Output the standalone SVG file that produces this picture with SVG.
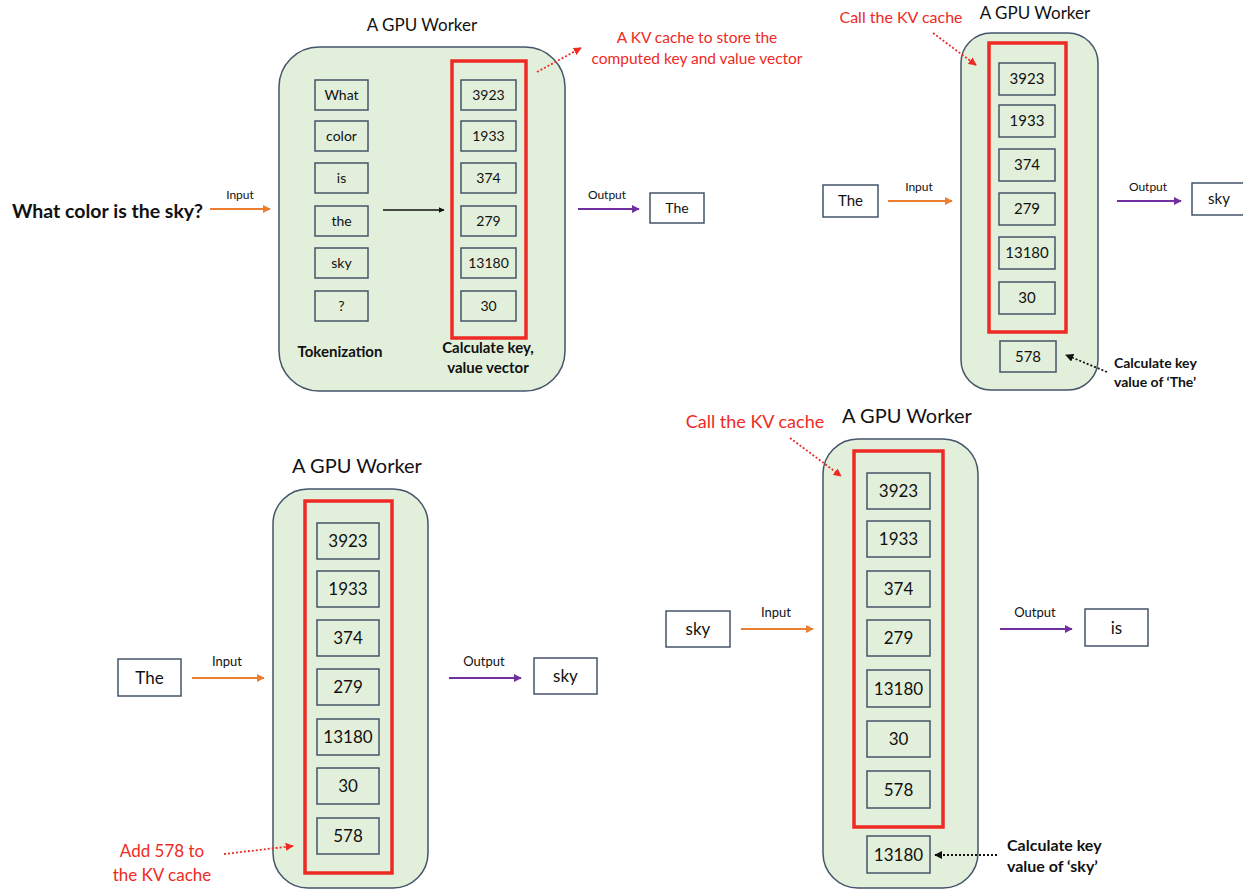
<svg xmlns="http://www.w3.org/2000/svg" width="1243" height="890" viewBox="0 0 1243 890">
<defs>
<style>
text{font-family:Lato,"Liberation Sans",sans-serif;fill:#111}
.c{text-anchor:middle}
.worker{fill:#e2efda;stroke:#44546a;stroke-width:1.5}
.box{fill:#e2efda;stroke:#44546a;stroke-width:1.5}
.wbox{fill:#fff;stroke:#44546a;stroke-width:1.5}
.kv{fill:none;stroke:#ee2a24;stroke-width:3.5}
.red{fill:#ee2a24}
.b{font-weight:bold}
.in{stroke:#ed7d31;stroke-width:2;fill:none;marker-end:url(#ao)}
.out{stroke:#7030a0;stroke-width:2;fill:none;marker-end:url(#ap)}
.rd{stroke:#ee2a24;stroke-width:1.8;stroke-dasharray:2 2;fill:none;marker-end:url(#ar)}
.kd{stroke:#111;stroke-width:1.8;stroke-dasharray:2 2;fill:none;marker-end:url(#ak)}
</style>
<marker id="ao" viewBox="0 0 10 10" refX="9" refY="5" markerWidth="4" markerHeight="4" orient="auto"><path d="M0,0L10,5L0,10z" fill="#ed7d31"/></marker>
<marker id="ap" viewBox="0 0 10 10" refX="9" refY="5" markerWidth="4" markerHeight="4" orient="auto"><path d="M0,0L10,5L0,10z" fill="#7030a0"/></marker>
<marker id="ar" viewBox="0 0 10 10" refX="9" refY="5" markerWidth="4.5" markerHeight="4.5" orient="auto"><path d="M0,0L10,5L0,10z" fill="#ee2a24"/></marker>
<marker id="ak" viewBox="0 0 10 10" refX="9" refY="5" markerWidth="4.5" markerHeight="4.5" orient="auto"><path d="M0,0L10,5L0,10z" fill="#111"/></marker>
<marker id="ab" viewBox="0 0 10 10" refX="9" refY="5" markerWidth="4" markerHeight="4" orient="auto"><path d="M0,0L10,5L0,10z" fill="#111"/></marker>
</defs>
<rect width="1243" height="890" fill="#fff"/>

<!-- Panel 1 -->
<g id="panel1">
<text class="c" x="422" y="31" font-size="17">A GPU Worker</text>
<rect class="worker" x="279" y="47" width="286" height="344" rx="40"/>
<g font-size="14">
<rect class="box" x="315" y="80" width="53" height="30"/><text class="c" x="341.5" y="100">What</text>
<rect class="box" x="315" y="121" width="53" height="30"/><text class="c" x="341.5" y="141">color</text>
<rect class="box" x="315" y="163" width="53" height="30"/><text class="c" x="341.5" y="183">is</text>
<rect class="box" x="315" y="206" width="53" height="30"/><text class="c" x="341.5" y="226">the</text>
<rect class="box" x="315" y="248" width="53" height="30"/><text class="c" x="341.5" y="268">sky</text>
<rect class="box" x="315" y="291" width="53" height="30"/><text class="c" x="341.5" y="311">?</text>
<rect class="box" x="461" y="80" width="55" height="30"/><text class="c" x="488.5" y="100">3923</text>
<rect class="box" x="461" y="121" width="55" height="30"/><text class="c" x="488.5" y="141">1933</text>
<rect class="box" x="461" y="163" width="55" height="30"/><text class="c" x="488.5" y="183">374</text>
<rect class="box" x="461" y="206" width="55" height="30"/><text class="c" x="488.5" y="226">279</text>
<rect class="box" x="461" y="248" width="55" height="30"/><text class="c" x="488.5" y="268">13180</text>
<rect class="box" x="461" y="291" width="55" height="30"/><text class="c" x="488.5" y="311">30</text>
</g>
<rect class="kv" x="452" y="61" width="74" height="277"/>
<text class="c b" x="340" y="357" font-size="15">Tokenization</text>
<text class="c b" x="488" y="353" font-size="15">Calculate key,</text>
<text class="c b" x="488" y="373" font-size="15">value vector</text>
<text class="b" x="12" y="218" font-size="19.5">What color is the sky?</text>
<text class="c" x="240" y="199" font-size="12">Input</text>
<text class="c" x="607" y="199" font-size="12">Output</text>
<rect class="wbox" x="650" y="193" width="54" height="30"/><text class="c" x="677" y="213" font-size="14">The</text>
<text class="c red" x="697" y="43" font-size="15.5">A KV cache to store the</text>
<text class="c red" x="697" y="64" font-size="15.5">computed key and value vector</text>
</g>

<!-- Panel 2 -->
<g id="panel2">
<text class="c" x="1035" y="19" font-size="17">A GPU Worker</text>
<rect class="worker" x="961" y="33" width="137" height="357" rx="30"/>
<g font-size="15">
<rect class="box" x="999" y="63" width="56" height="32"/><text class="c" x="1027" y="84">3923</text>
<rect class="box" x="999" y="105" width="56" height="32"/><text class="c" x="1027" y="126">1933</text>
<rect class="box" x="999" y="149" width="56" height="32"/><text class="c" x="1027" y="170">374</text>
<rect class="box" x="999" y="193" width="56" height="32"/><text class="c" x="1027" y="214">279</text>
<rect class="box" x="999" y="237" width="56" height="32"/><text class="c" x="1027" y="258">13180</text>
<rect class="box" x="999" y="282" width="56" height="32"/><text class="c" x="1027" y="303">30</text>
<rect class="box" x="1000" y="341" width="56" height="31"/><text class="c" x="1028" y="362">578</text>
<rect class="wbox" x="823" y="185" width="55" height="32"/><text class="c" x="850.5" y="206">The</text>
<rect class="wbox" x="1192" y="183" width="56" height="32"/><text class="c" x="1219" y="204">sky</text>
</g>
<rect class="kv" x="989" y="43" width="77" height="289"/>
<text class="c" x="919" y="191" font-size="12">Input</text>
<text class="c" x="1148" y="191" font-size="12">Output</text>
<text class="c red" x="901" y="23" font-size="16">Call the KV cache</text>
<text class="b" x="1114" y="368" font-size="14">Calculate key</text>
<text class="b" x="1114" y="387" font-size="14">value of ‘The’</text>
</g>

<!-- Panel 3 -->
<g id="panel3">
<text class="c" x="357" y="473" font-size="20">A GPU Worker</text>
<rect class="worker" x="273" y="489" width="155" height="399" rx="35"/>
<g font-size="17">
<rect class="box" x="317" y="523" width="62" height="36"/><text class="c" x="348" y="547">3923</text>
<rect class="box" x="317" y="571" width="62" height="36"/><text class="c" x="348" y="595">1933</text>
<rect class="box" x="317" y="620" width="62" height="36"/><text class="c" x="348" y="644">374</text>
<rect class="box" x="317" y="669" width="62" height="36"/><text class="c" x="348" y="693">279</text>
<rect class="box" x="317" y="719" width="62" height="36"/><text class="c" x="348" y="743">13180</text>
<rect class="box" x="317" y="768" width="62" height="36"/><text class="c" x="348" y="792">30</text>
<rect class="box" x="317" y="818" width="62" height="36"/><text class="c" x="348" y="842">578</text>
<rect class="wbox" x="118" y="659" width="63" height="37"/><text class="c" x="149.5" y="684">The</text>
<rect class="wbox" x="534" y="658" width="63" height="36"/><text class="c" x="565.5" y="682">sky</text>
</g>
<rect class="kv" x="305" y="501" width="87" height="372"/>
<text class="c" x="227" y="666" font-size="13">Input</text>
<text class="c" x="484" y="666" font-size="13">Output</text>
<text class="c red" x="162" y="857" font-size="17">Add 578 to</text>
<text class="c red" x="162" y="881" font-size="17">the KV cache</text>
</g>

<!-- Panel 4 -->
<g id="panel4">
<text class="c" x="907" y="423" font-size="20">A GPU Worker</text>
<rect class="worker" x="823" y="439" width="155" height="449" rx="35"/>
<g font-size="17">
<rect class="box" x="867" y="473" width="63" height="36"/><text class="c" x="898.5" y="497">3923</text>
<rect class="box" x="867" y="521" width="63" height="36"/><text class="c" x="898.5" y="545">1933</text>
<rect class="box" x="867" y="571" width="63" height="36"/><text class="c" x="898.5" y="595">374</text>
<rect class="box" x="867" y="620" width="63" height="36"/><text class="c" x="898.5" y="644">279</text>
<rect class="box" x="867" y="670" width="63" height="37"/><text class="c" x="898.5" y="695">13180</text>
<rect class="box" x="867" y="721" width="63" height="36"/><text class="c" x="898.5" y="745">30</text>
<rect class="box" x="867" y="771" width="63" height="37"/><text class="c" x="898.5" y="796">578</text>
<rect class="box" x="867" y="836" width="63" height="37"/><text class="c" x="898.5" y="861">13180</text>
<rect class="wbox" x="666" y="611" width="64" height="36"/><text class="c" x="698" y="635">sky</text>
<rect class="wbox" x="1085" y="609" width="63" height="37"/><text class="c" x="1116.5" y="634">is</text>
</g>
<rect class="kv" x="854" y="451" width="89" height="376"/>
<text class="c" x="776" y="617" font-size="13">Input</text>
<text class="c" x="1035" y="617" font-size="13">Output</text>
<text class="c red" x="755" y="428" font-size="18">Call the KV cache</text>
<text class="b" x="1007" y="851" font-size="16">Calculate key</text>
<text class="b" x="1007" y="872" font-size="16">value of ‘sky’</text>
</g>

<g id="connectors">
<line x1="383" y1="210" x2="444" y2="210" stroke="#111" stroke-width="1.5" marker-end="url(#ab)"/>
<line class="in" x1="210" y1="209" x2="270" y2="209"/>
<line class="out" x1="578" y1="209" x2="639" y2="209"/>
<line class="rd" x1="537" y1="72" x2="581" y2="48"/>
<line class="in" x1="888" y1="201" x2="952" y2="201"/>
<line class="out" x1="1117" y1="201" x2="1181" y2="201"/>
<line class="rd" x1="933" y1="33" x2="976" y2="65"/>
<line class="kd" x1="1107" y1="372" x2="1066" y2="355"/>
<line class="in" x1="192" y1="678" x2="264" y2="678"/>
<line class="out" x1="449" y1="678" x2="521" y2="678"/>
<line class="rd" x1="224" y1="854" x2="293" y2="846"/>
<line class="in" x1="741" y1="629" x2="813" y2="629"/>
<line class="out" x1="1000" y1="629" x2="1072" y2="629"/>
<line class="rd" x1="790" y1="438" x2="841" y2="476"/>
<line class="kd" x1="997" y1="855" x2="935" y2="855"/>
</g>
</svg>
